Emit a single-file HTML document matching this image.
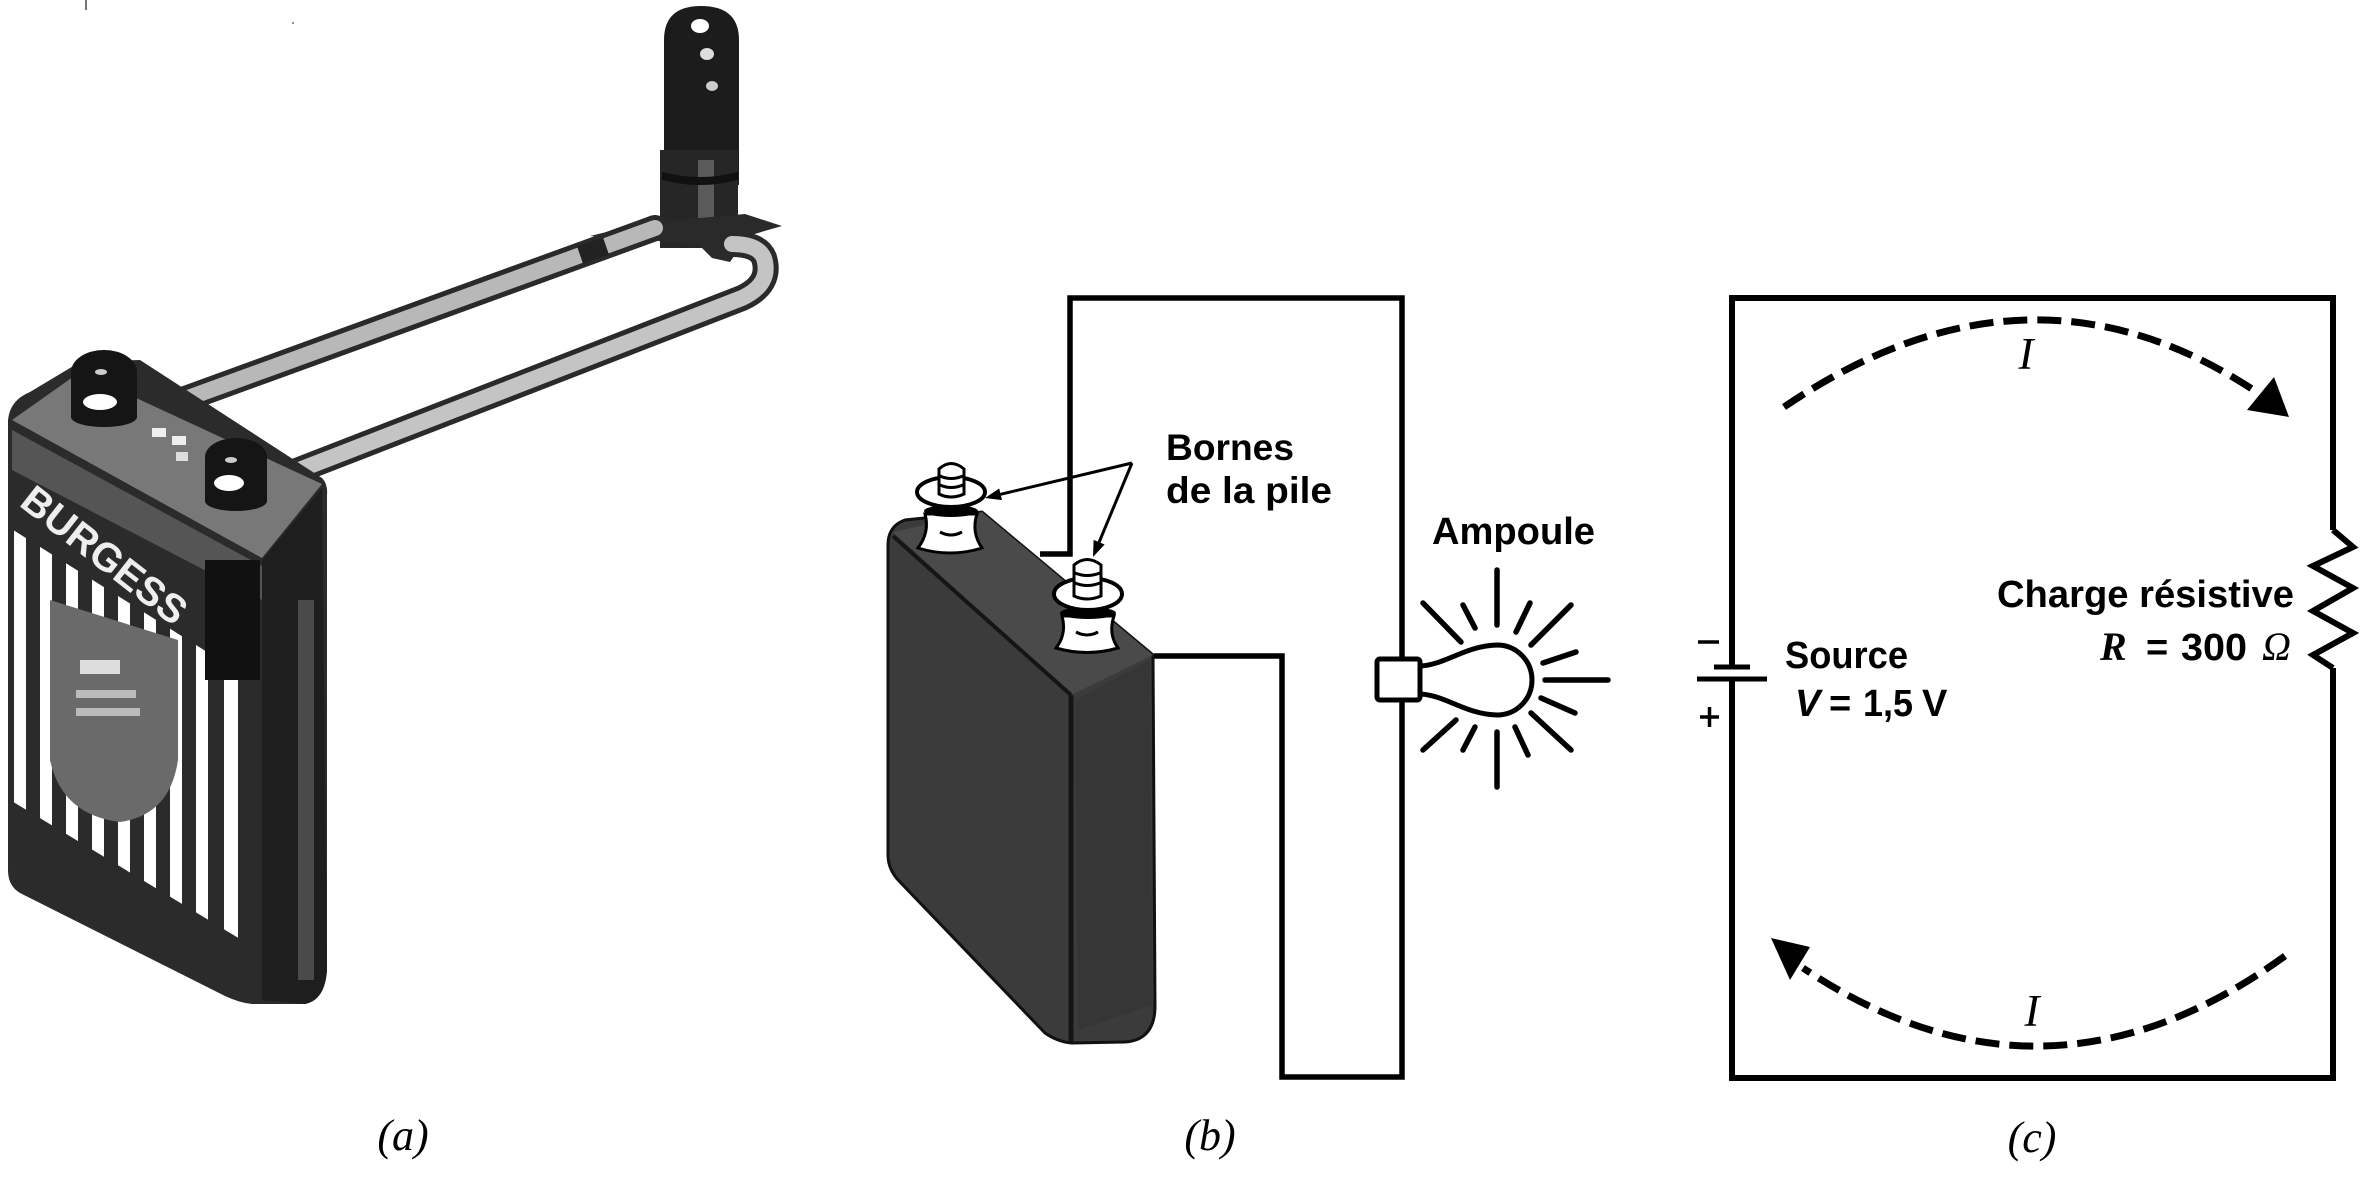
<!DOCTYPE html>
<html><head><meta charset="utf-8">
<style>
html,body{margin:0;padding:0;background:#fff;}
svg{display:block;}
.sb{font-family:"Liberation Sans",Arial,sans-serif;font-weight:bold;fill:#000;}
.si{font-family:"Liberation Serif","Times New Roman",serif;font-style:italic;fill:#000;}
</style></head>
<body>
<svg width="2362" height="1177" viewBox="0 0 2362 1177" xmlns="http://www.w3.org/2000/svg">
<rect width="2362" height="1177" fill="#fff"/>
<defs>
  <clipPath id="stripeClip"><path d="M10,528 L250,679 L250,945 L10,800 Z"/></clipPath>
</defs>

<!-- ============ Panel (a) photo ============ -->
<line x1="86" y1="0" x2="86" y2="10" stroke="#444" stroke-width="1.5"/>
<circle cx="293" cy="23" r="1" fill="#666"/>

<!-- lamp holder -->
<path d="M664,40 Q664,6 701,6 Q739,6 739,40 L739,185 L664,185 Z" fill="#1c1c1c"/>
<ellipse cx="700" cy="26" rx="9" ry="7" fill="#fff"/>
<ellipse cx="707" cy="54" rx="7" ry="6" fill="#ddd"/>
<ellipse cx="712" cy="86" rx="6" ry="5" fill="#ccc"/>
<path d="M660,150 L738,150 L738,248 L660,248 Z" fill="#262626"/>
<rect x="698" y="160" width="16" height="85" fill="#5a5a5a"/>
<path d="M662,172 Q700,182 738,172 L738,180 Q700,190 662,180 Z" fill="#111"/>
<path d="M590,236 L640,224 L700,218 L745,214 L782,226 L768,230 L748,236 L730,262 L712,258 L700,246 L650,240 Z" fill="#2a2a2a"/>

<!-- wires -->
<line x1="133" y1="418" x2="655" y2="228" stroke="#2a2a2a" stroke-width="26" stroke-linecap="round"/>
<line x1="133" y1="418" x2="655" y2="228" stroke="#b8b8b8" stroke-width="16" stroke-linecap="round"/>
<line x1="580" y1="255" x2="606" y2="246" stroke="#222" stroke-width="18"/>
<path d="M258,486 L742,298 Q772,284 764,258 Q758,244 732,244" fill="none" stroke="#2a2a2a" stroke-width="26" stroke-linecap="round"/>
<path d="M258,486 L742,298 Q772,284 764,258 Q758,244 732,244" fill="none" stroke="#c4c4c4" stroke-width="16" stroke-linecap="round"/>

<!-- battery (a) -->
<path d="M8,420 Q10,400 30,392 L80,362 L140,360 L322,478 Q328,484 327,495 L327,970 Q325,1000 305,1004 L252,1004 Q240,1003 225,996 L20,893 Q8,886 8,870 Z" fill="#2b2b2b"/>
<path d="M12,420 L80,372 L322,484 L262,558 Z" fill="#787878"/>
<path d="M12,430 L262,566 L262,600 L12,470 Z" fill="#555"/>
<g clip-path="url(#stripeClip)">
  <rect x="14" y="500" width="12" height="500" fill="#fff"/>
  <rect x="40" y="500" width="12" height="500" fill="#fff"/>
  <rect x="66" y="500" width="12" height="500" fill="#fff"/>
  <rect x="92" y="500" width="12" height="500" fill="#fff"/>
  <rect x="118" y="500" width="12" height="500" fill="#fff"/>
  <rect x="144" y="500" width="12" height="500" fill="#fff"/>
  <rect x="170" y="500" width="12" height="500" fill="#fff"/>
  <rect x="196" y="500" width="12" height="500" fill="#fff"/>
  <rect x="224" y="500" width="14" height="500" fill="#fff"/>
</g>
<path d="M50,600 L178,640 L178,760 Q170,815 120,822 Q62,815 50,760 Z" fill="#6a6a6a"/>
<rect x="80" y="660" width="40" height="14" fill="#ddd"/>
<rect x="76" y="690" width="60" height="8" fill="#bbb"/>
<rect x="76" y="708" width="64" height="8" fill="#bbb"/>
<rect x="205" y="560" width="55" height="120" fill="#111"/>
<path d="M262,560 L322,488 L327,970 Q325,1000 305,1004 L262,1000 Z" fill="#1e1e1e"/>
<rect x="298" y="600" width="16" height="380" fill="#4a4a4a"/>
<text x="18" y="505" class="sb" font-size="40" style="fill:#eee" transform="rotate(38 18 505)">BURGESS</text>
<!-- terminals (a) -->
<ellipse cx="104" cy="372" rx="33" ry="22" fill="#151515"/>
<rect x="71" y="372" width="66" height="45" fill="#151515"/>
<ellipse cx="104" cy="417" rx="33" ry="10" fill="#151515"/>
<ellipse cx="100" cy="402" rx="17" ry="8" fill="#fff"/>
<ellipse cx="101" cy="372" rx="6" ry="3" fill="#ccc"/>
<ellipse cx="236" cy="457" rx="31" ry="19" fill="#151515"/>
<rect x="205" y="457" width="62" height="44" fill="#151515"/>
<ellipse cx="236" cy="501" rx="31" ry="10" fill="#151515"/>
<ellipse cx="229" cy="483" rx="15" ry="8" fill="#fff"/>
<ellipse cx="231" cy="460" rx="6" ry="3" fill="#ccc"/>
<rect x="152" y="428" width="14" height="9" fill="#eee"/>
<rect x="172" y="436" width="14" height="9" fill="#eee"/>
<rect x="176" y="452" width="12" height="9" fill="#ddd"/>

<text x="403" y="1150" class="si" font-size="44" text-anchor="middle">(a)</text>

<!-- ============ Panel (b) ============ -->
<path d="M888,545 Q888,526 905,520 L982,512 L1153,655 L1155,1008 Q1154,1040 1125,1042 L1072,1043 Q1058,1042 1045,1033 L900,882 Q888,870 888,855 Z" fill="#3b3b3b" stroke="#111" stroke-width="3"/>
<path d="M893,532 L982,512 L1153,655 L1071,695 Z" fill="#4a4a4a"/>
<path d="M893,536 L1071,695" stroke="#151515" stroke-width="4" fill="none"/>
<path d="M1071,695 L1071,1042" stroke="#151515" stroke-width="5" fill="none"/>
<path d="M1075,700 L1150,660 L1152,1005 L1078,1030 Z" fill="#363636"/>

<!-- wires (b) -->
<path d="M1040,554 L1070,554 L1070,298 L1402,298 L1402,1077 L1282,1077 L1282,656 L1154,656" fill="none" stroke="#000" stroke-width="5.5" stroke-linejoin="miter"/>

<!-- left terminal -->
<path d="M925,514 Q930,532 918,548 Q950,558 982,548 Q971,532 977,514 Z" fill="#fff" stroke="#000" stroke-width="3"/>
<path d="M940,532 Q951,538 962,532" fill="none" stroke="#000" stroke-width="3"/>
<ellipse cx="951" cy="511" rx="27" ry="6" fill="#000"/>
<ellipse cx="951" cy="492" rx="34" ry="15" fill="#fff" stroke="#000" stroke-width="4"/>
<path d="M939,494 L939,469 Q951,458 964,469 L964,494 Q951,500 939,494 Z" fill="#fff" stroke="#000" stroke-width="3"/>
<path d="M940,476 Q951,481 963,476 M940,485 Q951,490 963,485" fill="none" stroke="#000" stroke-width="3"/>
<!-- right terminal -->
<path d="M1062,616 Q1067,634 1056,648 Q1087,657 1118,648 Q1108,634 1114,616 Z" fill="#fff" stroke="#000" stroke-width="3"/>
<path d="M1076,632 Q1087,638 1098,632" fill="none" stroke="#000" stroke-width="3"/>
<ellipse cx="1088" cy="613" rx="28" ry="6" fill="#000"/>
<ellipse cx="1088" cy="594" rx="34" ry="16" fill="#fff" stroke="#000" stroke-width="4"/>
<path d="M1074,596 L1074,565 Q1087,554 1101,565 L1101,596 Q1087,602 1074,596 Z" fill="#fff" stroke="#000" stroke-width="3"/>
<path d="M1075,573 Q1087,578 1100,573 M1075,583 Q1087,588 1100,583" fill="none" stroke="#000" stroke-width="3"/>

<!-- Bornes arrows -->
<line x1="1132" y1="463" x2="1000.6" y2="494.3" stroke="#000" stroke-width="3"/>
<polygon points="985,498 1002,500.1 999.2,488.5" fill="#000"/>
<line x1="1132" y1="463" x2="1099.1" y2="542.2" stroke="#000" stroke-width="3"/>
<polygon points="1093,557 1104.6,544.5 1093.6,539.9" fill="#000"/>

<text x="1166" y="460" class="sb" font-size="37" textLength="128" lengthAdjust="spacingAndGlyphs">Bornes</text>
<text x="1166" y="503" class="sb" font-size="37" textLength="166" lengthAdjust="spacingAndGlyphs">de la pile</text>
<text x="1432" y="544" class="sb" font-size="38" textLength="163" lengthAdjust="spacingAndGlyphs">Ampoule</text>

<!-- bulb -->
<path d="M1421,666 C1447,664 1465,646 1497,645 A35,35 0 0 1 1497,715 C1465,714 1447,696 1421,694" fill="#fff" stroke="#000" stroke-width="5"/>
<rect x="1377" y="659" width="43" height="41" rx="3" fill="#fff" stroke="#000" stroke-width="5"/>
<g stroke="#000" stroke-width="5.5" stroke-linecap="round" fill="none">
  <line x1="1497" y1="570" x2="1497" y2="625"/>
  <line x1="1423" y1="603" x2="1461" y2="642"/>
  <line x1="1463" y1="605" x2="1475" y2="628"/>
  <line x1="1530" y1="603" x2="1516" y2="632"/>
  <line x1="1571" y1="605" x2="1531" y2="645"/>
  <line x1="1576" y1="652" x2="1543" y2="663"/>
  <line x1="1545" y1="680" x2="1608" y2="680"/>
  <line x1="1541" y1="698" x2="1575" y2="713"/>
  <line x1="1531" y1="713" x2="1571" y2="750"/>
  <line x1="1515" y1="727" x2="1528" y2="755"/>
  <line x1="1497" y1="732" x2="1497" y2="787"/>
  <line x1="1475" y1="727" x2="1463" y2="750"/>
  <line x1="1456" y1="720" x2="1423" y2="750"/>
</g>

<text x="1210" y="1150" class="si" font-size="44" text-anchor="middle">(b)</text>

<!-- ============ Panel (c) ============ -->
<g stroke="#000" stroke-width="6" fill="none" stroke-linejoin="miter">
  <path d="M1732,666 L1732,298 L2333,298 L2333,530"/>
  <polyline points="2333,530 2353,547 2313,566 2353,588 2313,611 2353,633 2313,655 2333,668"/>
  <path d="M2333,668 L2333,1078 L1732,1078 L1732,678"/>
</g>
<line x1="1714" y1="667" x2="1750" y2="667" stroke="#000" stroke-width="5"/>
<line x1="1697" y1="679" x2="1767" y2="679" stroke="#000" stroke-width="5"/>
<line x1="1698" y1="642" x2="1719" y2="642" stroke="#000" stroke-width="3.5"/>
<line x1="1700" y1="717" x2="1719" y2="717" stroke="#000" stroke-width="3.5"/>
<line x1="1709.5" y1="707" x2="1709.5" y2="727" stroke="#000" stroke-width="3.5"/>

<!-- current arcs -->
<path d="M1784,407 Q2030,240 2258,393" fill="none" stroke="#000" stroke-width="7" stroke-dasharray="24 10"/>
<polygon points="2289,417 2247,410 2274,377" fill="#000"/>
<path d="M2285,956 Q2045,1130 1803,968" fill="none" stroke="#000" stroke-width="7" stroke-dasharray="24 10"/>
<polygon points="1771,938 1810,947 1790,980" fill="#000"/>

<text x="2026" y="369" class="si" font-size="45" text-anchor="middle">I</text>
<text x="2032" y="1026" class="si" font-size="45" text-anchor="middle">I</text>

<text x="1785" y="668" class="sb" font-size="38" textLength="123" lengthAdjust="spacingAndGlyphs">Source</text>
<text x="1795" y="716" class="sb" font-size="38" font-style="italic">V</text>
<text x="1829" y="716" class="sb" font-size="38">=</text>
<text x="1863" y="716" class="sb" font-size="38" textLength="50" lengthAdjust="spacingAndGlyphs">1,5</text>
<text x="1922" y="716" class="sb" font-size="38">V</text>

<text x="1997" y="607" class="sb" font-size="38" textLength="297" lengthAdjust="spacingAndGlyphs">Charge résistive</text>
<text x="2100" y="660" class="si" font-size="40" font-weight="bold">R</text>
<text x="2146" y="660" class="sb" font-size="38">=</text>
<text x="2181" y="660" class="sb" font-size="38" textLength="66" lengthAdjust="spacingAndGlyphs">300</text>
<text x="2262" y="660" class="si" font-size="40">Ω</text>

<text x="2032" y="1152" class="si" font-size="44" text-anchor="middle">(c)</text>
</svg>
</body></html>
